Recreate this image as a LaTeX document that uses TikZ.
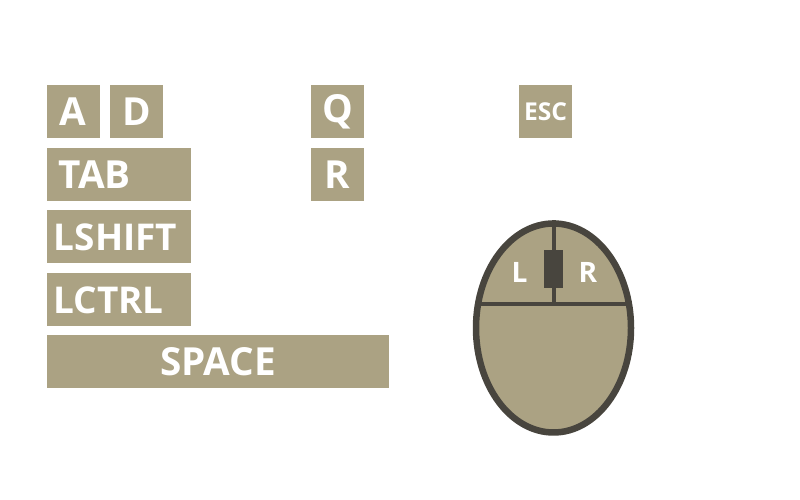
\documentclass[tikz,border=0pt]{standalone}
\usepackage{fontspec}
\setmainfont{Open Sans}
\usetikzlibrary{positioning,shapes.geometric}
\definecolor{keytan}{HTML}{ABA283}
\definecolor{mousedark}{HTML}{48453E}

\begin{document}
\begin{tikzpicture}[
  keybox/.style={fill=keytan, text=white, minimum width=1.06cm, minimum height=1.06cm, inner sep=0pt, font=\fontsize{22}{22}\selectfont\bfseries},
  widebox/.style={keybox, minimum width=2.88cm, font=\fontsize{21}{21}\selectfont\bfseries},
  btnlabel/.style={text=white, inner sep=0pt, font=\fontsize{16}{16}\selectfont\bfseries}
]
  \useasboundingbox (0,0) rectangle (16,10);

  \node[keybox] (a) at (1.47,7.76) {\hspace*{-0.03cm}A};
  \node[keybox] (d) at (2.73,7.76) {\hspace*{0.03cm}D};
  \node[keybox] (q) at (6.75,7.76) {Q};
  \node[keybox] (r) at (6.75,6.50) {R};
  \node[keybox, font=\fontsize{14}{14}\selectfont\bfseries] (esc) at (10.91,7.76) {ESC};

  \node[widebox, font=\fontsize{22}{22}\selectfont\bfseries] (tab) at (2.38,6.50) {\hspace*{-0.98cm}TAB};
  \node[widebox] (lshift) at (2.38,5.26) {\hspace*{-0.14cm}LSHIFT};
  \node[widebox] (lctrl)  at (2.38,4.00) {\hspace*{-0.42cm}LCTRL};
  \node[keybox, minimum width=6.84cm] (space) at (4.36,2.77) {SPACE};

  \node[ellipse, draw=mousedark, fill=keytan, line width=0.13cm, minimum width=3.1cm, minimum height=4.18cm, inner sep=0pt] (mouse) at (11.07,3.44) {};
  \coordinate (split) at (11.07,3.92);
  \draw[mousedark, line width=0.08cm] (9.56,3.92) -- (12.58,3.92);
  \draw[mousedark, line width=0.08cm] (mouse.north) -- (split);
  \node[fill=mousedark, minimum width=0.38cm, minimum height=0.76cm, inner sep=0pt] (wheel) at (11.07,4.62) {};
  \node[btnlabel] (lbtn) at (10.39,4.55) {L};
  \node[btnlabel] (rbtn) at (11.76,4.55) {R};
\end{tikzpicture}
\end{document}
